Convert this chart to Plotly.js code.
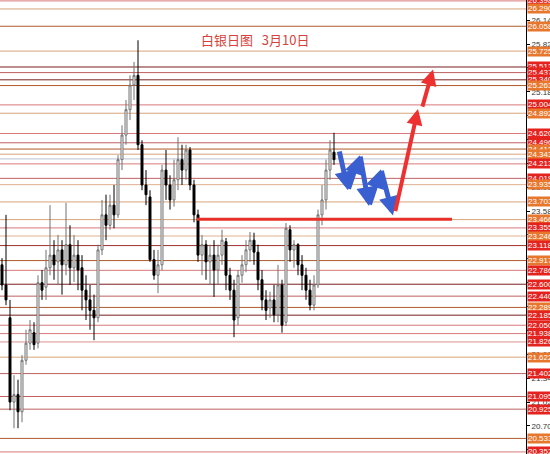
<!DOCTYPE html>
<html><head><meta charset="utf-8">
<script src="https://cdn.plot.ly/plotly-3.0.1.min.js"></script>
<style>html,body{margin:0;padding:0;background:#fff}#c{width:550px;height:454px}</style>
</head><body><div id="c"></div>
<script>
// Daily candles (index = bar number)
const openP  = [22.86,22.59,22.15,21.02,21.12,20.89,21.58,21.81,21.95,21.81,22.62,22.56,22.82,22.99,22.90,23.06,22.86,23.13,22.82,22.99,22.82,22.52,22.39,22.25,22.15,23.06,23.53,23.39,23.66,23.53,24.27,24.60,24.94,25.27,25.40,24.47,23.93,23.77,22.93,22.72,22.86,24.13,23.93,23.73,24.00,24.27,24.13,24.40,23.93,23.53,22.99,23.13,22.90,22.99,22.79,22.99,23.17,22.72,22.52,22.15,22.72,22.86,23.06,23.19,23.03,22.66,22.39,22.28,22.39,22.19,22.59,22.09,23.33,23.06,23.13,22.86,22.72,22.52,22.32,22.59,23.53,23.73,24.13,24.37];
const highP  = [22.95,23.53,22.39,21.38,21.32,21.65,21.99,22.12,22.09,22.72,22.79,23.06,23.66,23.19,23.26,23.19,23.69,23.39,23.26,23.19,22.99,22.72,22.59,22.46,23.13,23.73,23.80,23.80,23.93,24.33,24.73,25.07,25.40,25.58,25.87,24.53,24.13,23.86,23.06,23.06,24.20,24.40,24.06,24.27,24.57,24.47,24.47,24.44,24.00,23.60,23.26,23.19,23.13,23.19,23.13,23.33,23.22,22.82,22.66,22.79,22.99,23.19,23.30,23.29,23.13,22.79,22.52,22.50,22.59,22.86,22.66,23.42,23.39,23.19,23.15,22.99,22.82,22.66,22.72,23.60,23.93,24.27,24.53,24.63];
const lowP   = [22.52,22.32,20.91,20.67,20.67,20.75,21.52,21.72,21.72,21.74,22.39,22.39,22.72,22.66,22.59,22.46,22.72,22.59,22.63,22.52,22.25,22.12,21.99,21.85,22.09,22.99,23.19,23.33,23.35,23.49,24.13,24.47,24.80,25.07,24.40,23.86,23.66,22.90,22.66,22.48,22.79,23.73,23.60,23.64,23.86,23.93,24.00,23.86,23.43,22.90,22.72,22.66,22.59,22.43,22.59,22.86,22.52,22.39,21.89,22.05,22.62,22.76,22.90,22.86,22.52,22.25,22.12,22.15,22.09,22.09,21.95,22.04,22.90,22.82,22.72,22.52,22.39,22.25,22.25,22.55,23.39,23.60,24.00,24.20];
const closeP = [22.59,22.39,21.02,21.12,20.89,21.58,21.81,21.99,21.79,22.62,22.52,22.82,22.99,22.86,23.06,22.86,23.13,22.82,22.99,22.79,22.52,22.39,22.25,22.15,23.06,23.53,23.39,23.66,23.53,24.27,24.60,24.94,25.27,25.40,24.47,23.93,23.80,22.93,22.72,22.86,24.13,23.93,23.73,24.00,24.27,24.13,24.40,23.93,23.53,22.99,23.13,22.90,22.99,22.79,22.99,23.19,22.72,22.52,22.12,22.72,22.86,23.06,23.19,23.03,22.66,22.39,22.25,22.39,22.19,22.59,22.05,23.35,23.06,23.13,22.86,22.72,22.52,22.32,22.59,23.53,23.73,24.13,24.40,24.27];

// Horizontal levels with their right-edge labels
const levelVals   = [26.398,26.290,26.058,25.725,25.512,25.437,25.340,25.263,25.004,24.892,24.620,24.496,24.412,24.343,24.213,24.019,23.935,23.703,23.466,23.355,23.246,23.118,22.917,22.786,22.600,22.440,22.289,22.185,22.050,21.938,21.826,21.622,21.402,21.095,20.925,20.533,20.352];
const levelKinds  = ['R','O','O','O','R','R','R','O','R','O','R','R','O','O','R','R','O','O','O','R','O','R','O','R','R','R','O','R','R','R','R','O','R','R','R','O','R'];
const levelLineColors = ['#d9797a','#d9a37a','#b05a2a','#d9a37a','#7a1f1f','#c06060','#7a1f1f','#b05a2a','#d9797a','#d9a37a','#d9797a','#c06060','#b05a2a','#d9a37a','#d9797a','#c06060','#e0b090','#d9a37a','#d9a37a','#d9797a','#e0b090','#a03030','#b05a2a','#d9797a','#7a1f1f','#c06060','#b05a2a','#7a1f1f','#d9797a','#d9797a','#e09090','#d9a37a','#c06060','#c06060','#c06060','#b05a2a','#d9797a'];

// Bid line
const bidPrice = 24.28;
// Support line (thick red)
const supportX = [48.75, 112.5];
const supportY = 23.47;
// Blue zigzag path
const blueX = [84.25, 86.5, 89.5, 91.75, 94.75, 97.75];
const blueY = [24.40, 23.86, 24.33, 23.65, 24.14, 23.52];
// Red upward path
const redX = [98.25, 104.0, 105.0, 107.75];
const redY = [23.56, 24.95, 24.96, 25.48];

const titleText = '白银日图\u00a0\u00a0\u00a03月10日';
const tickValsY = [20.380,20.700,21.020,21.340,21.660,21.980,22.300,22.620,22.940,23.260,23.580,23.900,24.220,24.540,24.860,25.180,25.500,25.820,26.140];

const idx = openP.map((_, i) => i);

const shapes = levelVals.map((v, i) => ({
  type:'line', xref:'paper', x0:0, x1:1, yref:'y', y0:v, y1:v,
  line:{color:levelLineColors[i], width:1}, layer:'below'
}));
shapes.push({type:'line', xref:'paper', x0:0, x1:1, yref:'y', y0:bidPrice, y1:bidPrice, line:{color:'#b8c0d0', width:1}, layer:'below'});
shapes.push({type:'line', xref:'x', x0:supportX[0], x1:supportX[1], yref:'y', y0:supportY, y1:supportY, line:{color:'#e8302a', width:3}});

const annotations = levelVals.map((v, i) => ({
  xref:'paper', x:1, xanchor:'left', xshift:1, yref:'y', y:v, yanchor:'middle',
  text:v.toFixed(3), showarrow:false,
  font:{family:'Liberation Sans, Arial', size:8, color:'#ffffff'},
  bgcolor: levelKinds[i]==='R' ? '#e4231f' : '#e8772e', borderpad:0
}));
for (let i = 1; i < blueX.length; i++) {
  annotations.push({x:blueX[i], y:blueY[i], ax:blueX[i-1], ay:blueY[i-1], xref:'x', yref:'y', axref:'x', ayref:'y',
    showarrow:true, arrowhead:2, arrowsize:0.75, arrowwidth:5, arrowcolor:'#3a5fd0', text:''});
}
annotations.push({x:redX[1], y:redY[1], ax:redX[0], ay:redY[0], xref:'x', yref:'y', axref:'x', ayref:'y',
  showarrow:true, arrowhead:2, arrowsize:0.8, arrowwidth:4, arrowcolor:'#ee3030', text:''});
annotations.push({x:redX[3], y:redY[3], ax:redX[2], ay:redY[2], xref:'x', yref:'y', axref:'x', ayref:'y',
  showarrow:true, arrowhead:2, arrowsize:0.8, arrowwidth:4, arrowcolor:'#ee3030', text:''});
annotations.push({xref:'paper', yref:'paper', x:0.485, y:0.912, yanchor:'middle', xanchor:'center', text:titleText, showarrow:false,
  font:{family:'Noto Sans CJK SC', size:13, color:'#d9403a'}});

const trace = {
  type:'candlestick', x:idx, open:openP, high:highP, low:lowP, close:closeP,
  increasing:{line:{color:'#707070', width:1}, fillcolor:'#ffffff'},
  decreasing:{line:{color:'#000000', width:1}, fillcolor:'#000000'},
  whiskerwidth:0, hoverinfo:'skip'
};

const layout = {
  width:550, height:454, margin:{l:0, r:24, t:0, b:0},
  paper_bgcolor:'#ffffff', plot_bgcolor:'#ffffff', showlegend:false,
  xaxis:{range:[-0.5, 131], showgrid:false, zeroline:false, showticklabels:false, ticks:'', rangeslider:{visible:false}, fixedrange:true},
  yaxis:{side:'right', range:[20.324, 26.41], showgrid:false, zeroline:false,
    tickmode:'array', tickvals:tickValsY, ticktext:tickValsY.map(v=>v.toFixed(3)),
    ticks:'outside', ticklen:3, tickcolor:'#000', showline:true, linecolor:'#000', linewidth:1,
    tickfont:{family:'Liberation Sans, Arial', size:8, color:'#333'}},
  shapes:shapes, annotations:annotations
};
Plotly.newPlot('c', [trace], layout, {displayModeBar:false, staticPlot:true});
</script></body></html>
